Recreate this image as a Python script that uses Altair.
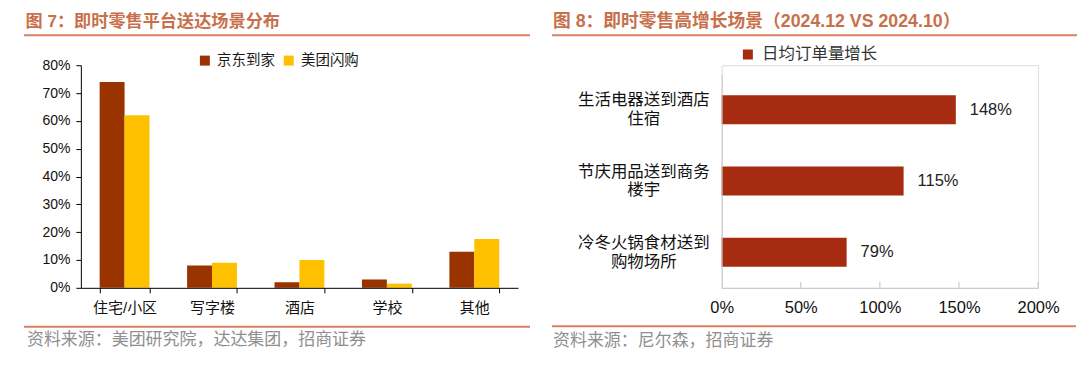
import altair as alt
import pandas as pd

# ---------------- data ----------------
left_categories = ["住宅/小区", "写字楼", "酒店", "学校", "其他"]
left_series = ["京东到家", "美团闪购"]
jd_values = [0.74, 0.08, 0.02, 0.03, 0.13]
mt_values = [0.62, 0.09, 0.10, 0.015, 0.175]
left_ticks = [0, 0.1, 0.2, 0.3, 0.4, 0.5, 0.6, 0.7, 0.8]

right_categories = ["生活电器送到酒店\n住宿", "节庆用品送到商务\n楼宇", "冷冬火锅食材送到\n购物场所"]
right_series = ["日均订单量增长"]
growth_values = [1.48, 1.15, 0.79]
right_ticks = [0, 0.5, 1.0, 1.5, 2.0]

left_title = "图 7：即时零售平台送达场景分布"
right_title = "图 8：即时零售高增长场景（2024.12 VS 2024.10）"
left_source = "资料来源：美团研究院，达达集团，招商证券"
right_source = "资料来源：尼尔森，招商证券"

# ---------------- style ----------------
FONT = "Liberation Sans, Noto Sans CJK SC, sans-serif"
TITLE_COLOR = "#C8704B"
LINE_COLOR = "#D9825F"
SOURCE_COLOR = "#8f8f8f"
JD_COLOR = "#993300"
MT_COLOR = "#FFC000"
RED = "#A62B11"


def text_layer(txt, x, y, size, color, weight="normal"):
    return alt.Chart(pd.DataFrame({"t": [txt]})).mark_text(
        align="left", baseline="middle", font=FONT, fontSize=size,
        color=color, fontWeight=weight
    ).encode(x=alt.value(x), y=alt.value(y), text="t:N")


def hrule(x1, x2, y, color=LINE_COLOR, w=2):
    return alt.Chart(pd.DataFrame({"d": [0]})).mark_rule(
        color=color, strokeWidth=w
    ).encode(x=alt.value(x1), x2=alt.value(x2), y=alt.value(y))


# ---------------- left panel ----------------
left_df = pd.DataFrame({
    "场景": left_categories * 2,
    "平台": [left_series[0]] * len(left_categories) + [left_series[1]] * len(left_categories),
    "占比": jd_values + mt_values,
})

bg = alt.Chart(pd.DataFrame({"d": [0]})).mark_rect(color="white").encode(
    x=alt.value(-80), x2=alt.value(1000), y=alt.value(-64), y2=alt.value(309)
)

bars_l = alt.Chart(left_df).mark_bar().encode(
    x=alt.X("场景:N", sort=left_categories,
            scale=alt.Scale(paddingInner=0.43, paddingOuter=0.215),
            axis=alt.Axis(title=None, labelAngle=0, tickBand="extent", tickSize=5,
                          tickColor="#000", domainColor="#000", labelFont=FONT,
                          labelFontSize=15, labelColor="#111", labelPadding=8,
                          zindex=2)),
    xOffset=alt.XOffset("平台:N", sort=left_series,
                        scale=alt.Scale(paddingInner=0, paddingOuter=0)),
    y=alt.Y("占比:Q", scale=alt.Scale(domain=[0, 0.8], nice=False),
            axis=alt.Axis(title=None, values=left_ticks, format=".0%", tickSize=5,
                          tickColor="#000", domainColor="#000", labelFont=FONT,
                          labelFontSize=14, labelColor="#111", labelPadding=6,
                          labelFlush=False, labelOverlap=False, grid=False,
                          zindex=2)),
    color=alt.Color("平台:N", sort=left_series,
                    scale=alt.Scale(domain=left_series, range=[JD_COLOR, MT_COLOR]),
                    legend=alt.Legend(title=None, orient="none", legendX=117, legendY=-12,
                                      direction="horizontal", symbolType="square",
                                      symbolSize=100, symbolStrokeWidth=0,
                                      labelFont=FONT, labelFontSize=14.5,
                                      labelColor="#1a1a1a", columnPadding=6,
                                      labelOffset=5, padding=0)),
)

left = alt.layer(
    bg,
    hrule(-57, 450, -30),
    hrule(-57, 450, 262),
    text_layer(left_title, -55.5, -43, 17.2, TITLE_COLOR, "bold"),
    text_layer(left_source, -54, 275.5, 17, SOURCE_COLOR),
    bars_l,
).properties(width=438, height=223)

# ---------------- right panel ----------------
right_df = pd.DataFrame({
    "场景": right_categories,
    "增长": growth_values,
    "指标": right_series * len(right_categories),
})
tick_df = pd.DataFrame({"增长": right_ticks[1:]})

y_enc = alt.Y("场景:N", sort=right_categories,
              scale=alt.Scale(range=[9, 223], paddingInner=0.593, paddingOuter=0.296),
              axis=alt.Axis(title=None, ticks=False, domainColor="#c8c8c8",
                            labelFont=FONT, labelFontSize=16.5, labelColor="#111",
                            labelAlign="center", labelBaseline="middle",
                            labelPadding=78.5, labelLineHeight=19, labelLimit=0,
                            labelOffset=-9.5, zindex=2,
                            labelExpr="split(datum.label, '\\n')"))
x_axis = alt.Axis(title=None, values=right_ticks, format=".0%", tickSize=0,
                  domainColor="#c8c8c8", labelFont=FONT, labelFontSize=16.5,
                  labelColor="#111", labelPadding=12, labelFlush=False,
                  labelOverlap=False, grid=False, zindex=2)
x_enc = alt.X("增长:Q", scale=alt.Scale(domain=[0, 2], nice=False), axis=x_axis)

bars_r = alt.Chart(right_df).mark_bar().encode(
    y=y_enc, x=x_enc,
    color=alt.Color("指标:N", scale=alt.Scale(domain=right_series, range=[RED]),
                    legend=alt.Legend(title=None, orient="none", legendX=18, legendY=-19,
                                      symbolType="square", symbolSize=100,
                                      symbolStrokeWidth=0, labelFont=FONT,
                                      labelFontSize=16.5, labelColor="#333",
                                      labelOffset=6, padding=0)),
)

labels_r = alt.Chart(right_df).mark_text(
    align="left", baseline="middle", dx=14, font=FONT, fontSize=16.5, color="#222"
).encode(y=y_enc, x=x_enc, text=alt.Text("增长:Q", format=".0%"))

ticks_r = alt.Chart(tick_df).mark_rule(color="#c0c0c0", strokeWidth=1).encode(
    x=x_enc, y=alt.value(217), y2=alt.value(223)
)

right = alt.layer(
    hrule(-170, 356, -30),
    hrule(-170, 355, 261.5),
    text_layer(right_title, -169, -43, 17.8, TITLE_COLOR, "bold"),
    text_layer(right_source, -169, 276, 17, SOURCE_COLOR),
    bars_r,
    ticks_r,
    labels_r,
).properties(width=317, height=223)

chart = alt.hconcat(left, right, spacing=204, bounds="flush", padding=0).resolve_scale(
    color="independent"
).configure_view(stroke=None).configure(background="white")

chart.save("out.html", embed_options={"renderer": "svg", "actions": False})
